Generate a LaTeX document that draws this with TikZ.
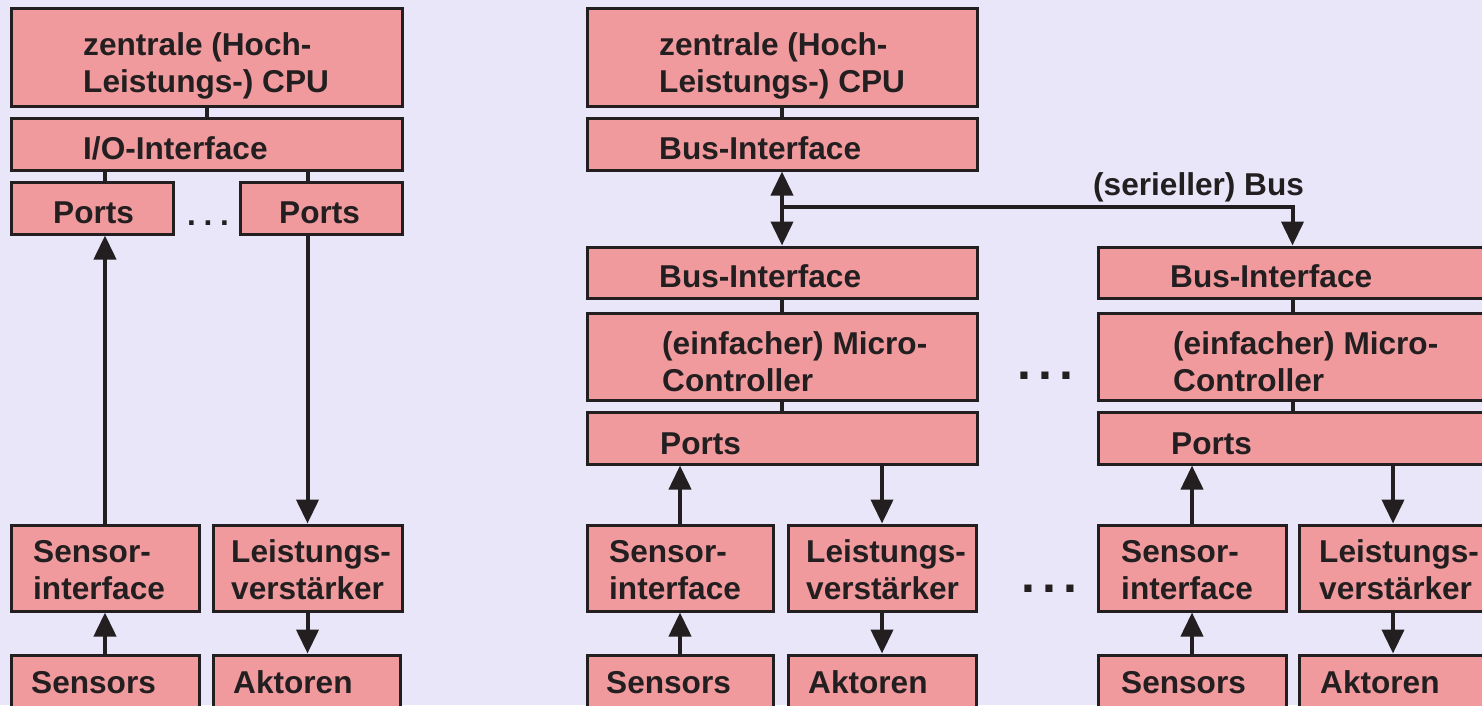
\documentclass[tikz,border=0pt]{standalone}
\usepackage{fontspec}
\setmainfont{Liberation Sans}
\usetikzlibrary{arrows.meta}

\definecolor{bg}{RGB}{232,230,248}
\definecolor{boxfill}{RGB}{240,154,158}
\definecolor{ink}{RGB}{35,31,32}

\tikzset{
  unitbox/.style={draw=ink, fill=boxfill, line width=3pt, inner sep=0pt, rectangle},
  % anchor at the baseline of the last text line
  lbl/.style={font=\fontsize{31.6}{37}\selectfont\bfseries, text=ink,
               inner sep=0pt, anchor=base west, align=left},
  bigdots/.style={font=\fontsize{50}{50}\selectfont\bfseries, text=ink,
               inner sep=0pt, anchor=base west},
  wire/.style={draw=ink, line width=4pt},
  arr/.style={wire, -{Triangle[length=24pt,width=22pt]}},
  darr/.style={wire, {Triangle[length=24pt,width=22pt]}-{Triangle[length=24pt,width=22pt]}},
}

% rectangle from (x1,y1) to (x2,y2), measured from the top left corner
\newcommand\mkbox[5]{%
  \node[unitbox, minimum width={#4-#2}, minimum height={#5-#3}] (#1)
    at ({(#2+#4)/2},{(#3+#5)/2}) {};}
\newcommand\threedots{.\hspace{7.4pt}.\hspace{7.4pt}.}
\newcommand\smalldots{.\hspace{7.7pt}.\hspace{7.7pt}.}

\begin{document}
\begin{tikzpicture}[x=1pt, y=-1pt]
  \useasboundingbox (0,0) rectangle (1482,705);
  \clip (0,0) rectangle (1482,705);
  \fill[bg] (0,0) rectangle (1482,705);

  % ---------- classic structure: central CPU with ports ----------
  \mkbox{cpuL}{11}{8}{402}{106}
  \mkbox{ioL}{11}{118}{402}{170}
  \mkbox{portsLa}{11}{182}{173}{234}
  \mkbox{portsLb}{240}{182}{402}{234}
  \mkbox{sensifL}{11}{525}{199}{611}
  \mkbox{ampL}{213}{525}{402}{611}
  \mkbox{sensL}{11}{655}{199}{760}
  \mkbox{actL}{213}{655}{400}{760}

  \node[lbl] (cpuL-t) at (83,92) {zentrale (Hoch-\\Leistungs-) CPU};
  \node[lbl] (ioL-t) at (83,159) {I/O-Interface};
  \node[lbl] (portsLa-t) at (53,223) {Ports};
  \node[lbl] (portsLb-t) at (279,223) {Ports};
  \node[lbl] (dotsL) at (187,225) {\smalldots};
  \node[lbl] (sensifL-t) at (33,599) {Sensor-\\interface};
  \node[lbl] (ampL-t) at (231,599) {Leistungs-\\verstärker};
  \node[lbl] (sensL-t) at (31,693) {Sensors};
  \node[lbl] (actL-t) at (233,693) {Aktoren};

  \draw[wire] (cpuL.south) -- (ioL.north);
  \draw[wire] (ioL.south -| sensifL) -- (portsLa.north -| sensifL);
  \draw[wire] (ioL.south -| ampL) -- (portsLb.north -| ampL);
  \draw[arr] (sensifL.north) -- (portsLa.south -| sensifL);
  \draw[arr] (portsLb.south -| ampL) -- (ampL.north);
  \draw[arr] (sensL.north) -- (sensifL.south);
  \draw[arr] (ampL.south) -- (actL.north -| ampL);

  % ---------- distributed structure: CPU with serial bus ----------
  \mkbox{cpuM}{587}{8}{977}{106}
  \mkbox{biM}{587}{118}{977}{170}
  \node[lbl] (cpuM-t) at (659,92) {zentrale (Hoch-\\Leistungs-) CPU};
  \node[lbl] (biM-t) at (659,159) {Bus-Interface};

  % first bus node
  \mkbox{biA}{587}{247}{977}{298}
  \mkbox{mcA}{587}{313}{977}{400}
  \mkbox{portsA}{587}{412}{977}{464}
  \mkbox{sensifA}{587}{525}{773}{611}
  \mkbox{ampA}{788}{525}{976}{611}
  \mkbox{sensA}{587}{655}{773}{760}
  \mkbox{actA}{788}{655}{976}{760}

  \node[lbl] (biA-t) at (659,287) {Bus-Interface};
  \node[lbl] (mcA-t) at (662,391) {(einfacher) Micro-\\Controller};
  \node[lbl] (portsA-t) at (660,454) {Ports};
  \node[lbl] (sensifA-t) at (609,599) {Sensor-\\interface};
  \node[lbl] (ampA-t) at (806,599) {Leistungs-\\verstärker};
  \node[lbl] (sensA-t) at (606,693) {Sensors};
  \node[lbl] (actA-t) at (808,693) {Aktoren};

  % further bus node
  \mkbox{biB}{1098}{247}{1487}{298}
  \mkbox{mcB}{1098}{313}{1487}{400}
  \mkbox{portsB}{1098}{412}{1487}{464}
  \mkbox{sensifB}{1098}{525}{1286}{611}
  \mkbox{ampB}{1299}{525}{1487}{611}
  \mkbox{sensB}{1098}{655}{1286}{760}
  \mkbox{actB}{1299}{655}{1487}{760}

  \node[lbl] (biB-t) at (1170,287) {Bus-Interface};
  \node[lbl] (mcB-t) at (1173,391) {(einfacher) Micro-\\Controller};
  \node[lbl] (portsB-t) at (1171,454) {Ports};
  \node[lbl] (sensifB-t) at (1121,599) {Sensor-\\interface};
  \node[lbl] (ampB-t) at (1319,599) {Leistungs-\\verstärker};
  \node[lbl] (sensB-t) at (1121,693) {Sensors};
  \node[lbl] (actB-t) at (1320,693) {Aktoren};

  \node[bigdots] (dotsM) at (1017,379) {\threedots};
  \node[bigdots] (dotsB) at (1021,592) {\threedots};

  % serial bus
  \coordinate (busy) at (0,207);
  \coordinate (busj) at (biM.south |- busy);
  \draw[wire] (cpuM.south) -- (biM.north);
  \draw[darr] (biM.south) -- (biA.north);
  \draw[arr] (busj) -| (biB.north);
  \node[lbl] (bus-t) at (1093,195) {(serieller) Bus};

  % wiring inside the bus nodes
  \foreach \n in {A,B} {
    \draw[wire] (bi\n.south) -- (mc\n.north);
    \draw[wire] (mc\n.south) -- (ports\n.north);
    \draw[arr] (sensif\n.north) -- (ports\n.south -| sensif\n);
    \draw[arr] (ports\n.south -| amp\n) -- (amp\n.north);
    \draw[arr] (sens\n.north) -- (sensif\n.south);
    \draw[arr] (amp\n.south) -- (act\n.north);
  }
\end{tikzpicture}
\end{document}
